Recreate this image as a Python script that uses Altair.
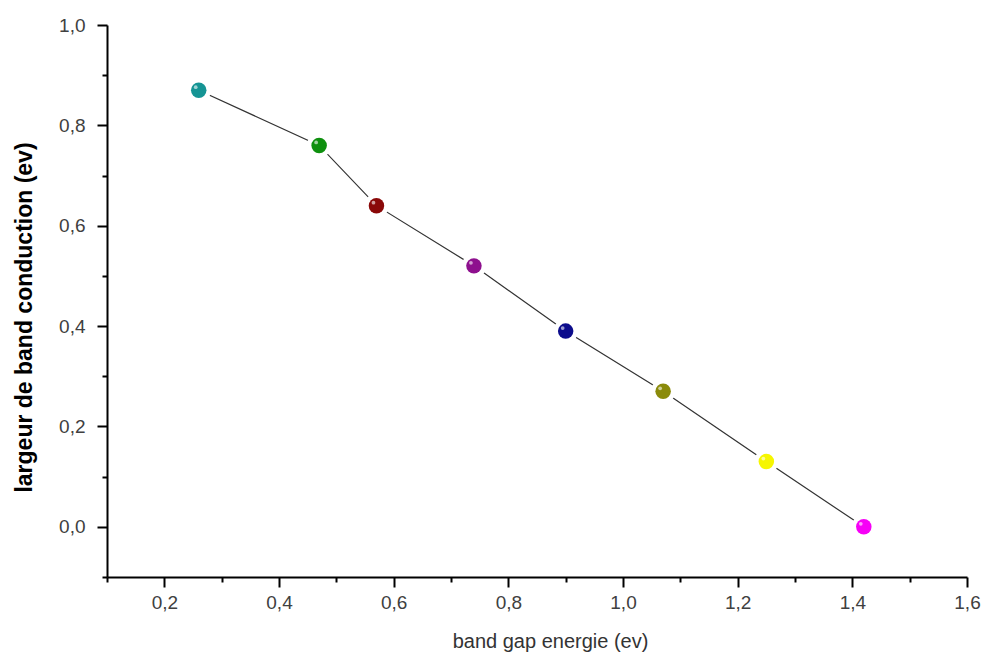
import altair as alt
import pandas as pd

# data
band_gap = [0.26, 0.47, 0.57, 0.74, 0.90, 1.07, 1.25, 1.42]
largeur = [0.87, 0.76, 0.64, 0.52, 0.39, 0.27, 0.13, 0.00]
point_id = ["p1", "p2", "p3", "p4", "p5", "p6", "p7", "p8"]
palette = ["#159494", "#0e900e", "#8a0808", "#8e108e", "#0c0c8c", "#8a8a0a", "#f6f600", "#f600f6"]

x_ticks = [0.1, 0.2, 0.3, 0.4, 0.5, 0.6, 0.7, 0.8, 0.9, 1.0, 1.1, 1.2, 1.3, 1.4, 1.5, 1.6]
y_ticks = [-0.1, 0.0, 0.1, 0.2, 0.3, 0.4, 0.5, 0.6, 0.7, 0.8, 0.9, 1.0]

df = pd.DataFrame({"x": band_gap, "y": largeur, "id": point_id})

FONT = "Liberation Sans"
label_expr = "abs(round(datum.value*10)) % 2 == 0 ? replace(format(datum.value, '.1f'), '.', ',') : ''"
major_test = "abs(round(datum.value*10)) % 2 == 0"

x_enc = alt.X(
    "x:Q",
    scale=alt.Scale(domain=[0.1, 1.6], nice=False, zero=False),
    axis=alt.Axis(
        title="band gap energie (ev)",
        values=x_ticks,
        labelExpr=label_expr,
        grid=False,
        domainColor="black",
        domainWidth=2,
        tickColor="black",
        tickWidth=2,
        tickSize={"condition": {"test": major_test, "value": 10}, "value": 5},
        labelPadding=6,
        labelFont=FONT,
        labelFontSize=19,
        labelColor="#404040",
        labelFlush=False,
        titleFont=FONT,
        titleFontSize=20,
        titleFontWeight="normal",
        titleColor="#333333",
        titlePadding=19,
        titleX=443,
    ),
)
y_enc = alt.Y(
    "y:Q",
    scale=alt.Scale(domain=[-0.1, 1.0], nice=False, zero=False),
    axis=alt.Axis(
        title="largeur de band conduction (ev)",
        values=y_ticks,
        labelExpr=label_expr,
        grid=False,
        domainColor="black",
        domainWidth=2,
        tickColor="black",
        tickWidth=2,
        tickSize={"condition": {"test": major_test, "value": 10}, "value": 5},
        labelPadding=12,
        labelFont=FONT,
        labelFontSize=19,
        labelColor="#404040",
        labelFlush=False,
        titleFont=FONT,
        titleFontSize=23,
        titleFontWeight="bold",
        titleColor="black",
        titlePadding=22,
        titleY=292,
    ),
)

base = alt.Chart(df)

line = base.mark_line(color="#333333", strokeWidth=1.2).encode(x=x_enc, y=y_enc)
halo = base.mark_circle(size=600, color="white", opacity=1).encode(x=x_enc, y=y_enc)
dots = base.mark_circle(size=240, opacity=1).encode(
    x=x_enc,
    y=y_enc,
    color=alt.Color("id:N", scale=alt.Scale(domain=point_id, range=palette), legend=None),
)
shine = base.mark_circle(size=14, color="white", opacity=0.6, xOffset=-3, yOffset=-3).encode(x=x_enc, y=y_enc)

chart = (
    alt.layer(line, halo, dots, shine)
    .properties(
        width=860,
        height=552,
        autosize=alt.AutoSizeParams(type="none"),
        padding={"left": 107, "top": 25, "right": 17, "bottom": 78},
        background="white",
    )
    .configure_view(stroke=None)
)

chart.save("out.html", embed_options={"renderer": "svg", "actions": False})
